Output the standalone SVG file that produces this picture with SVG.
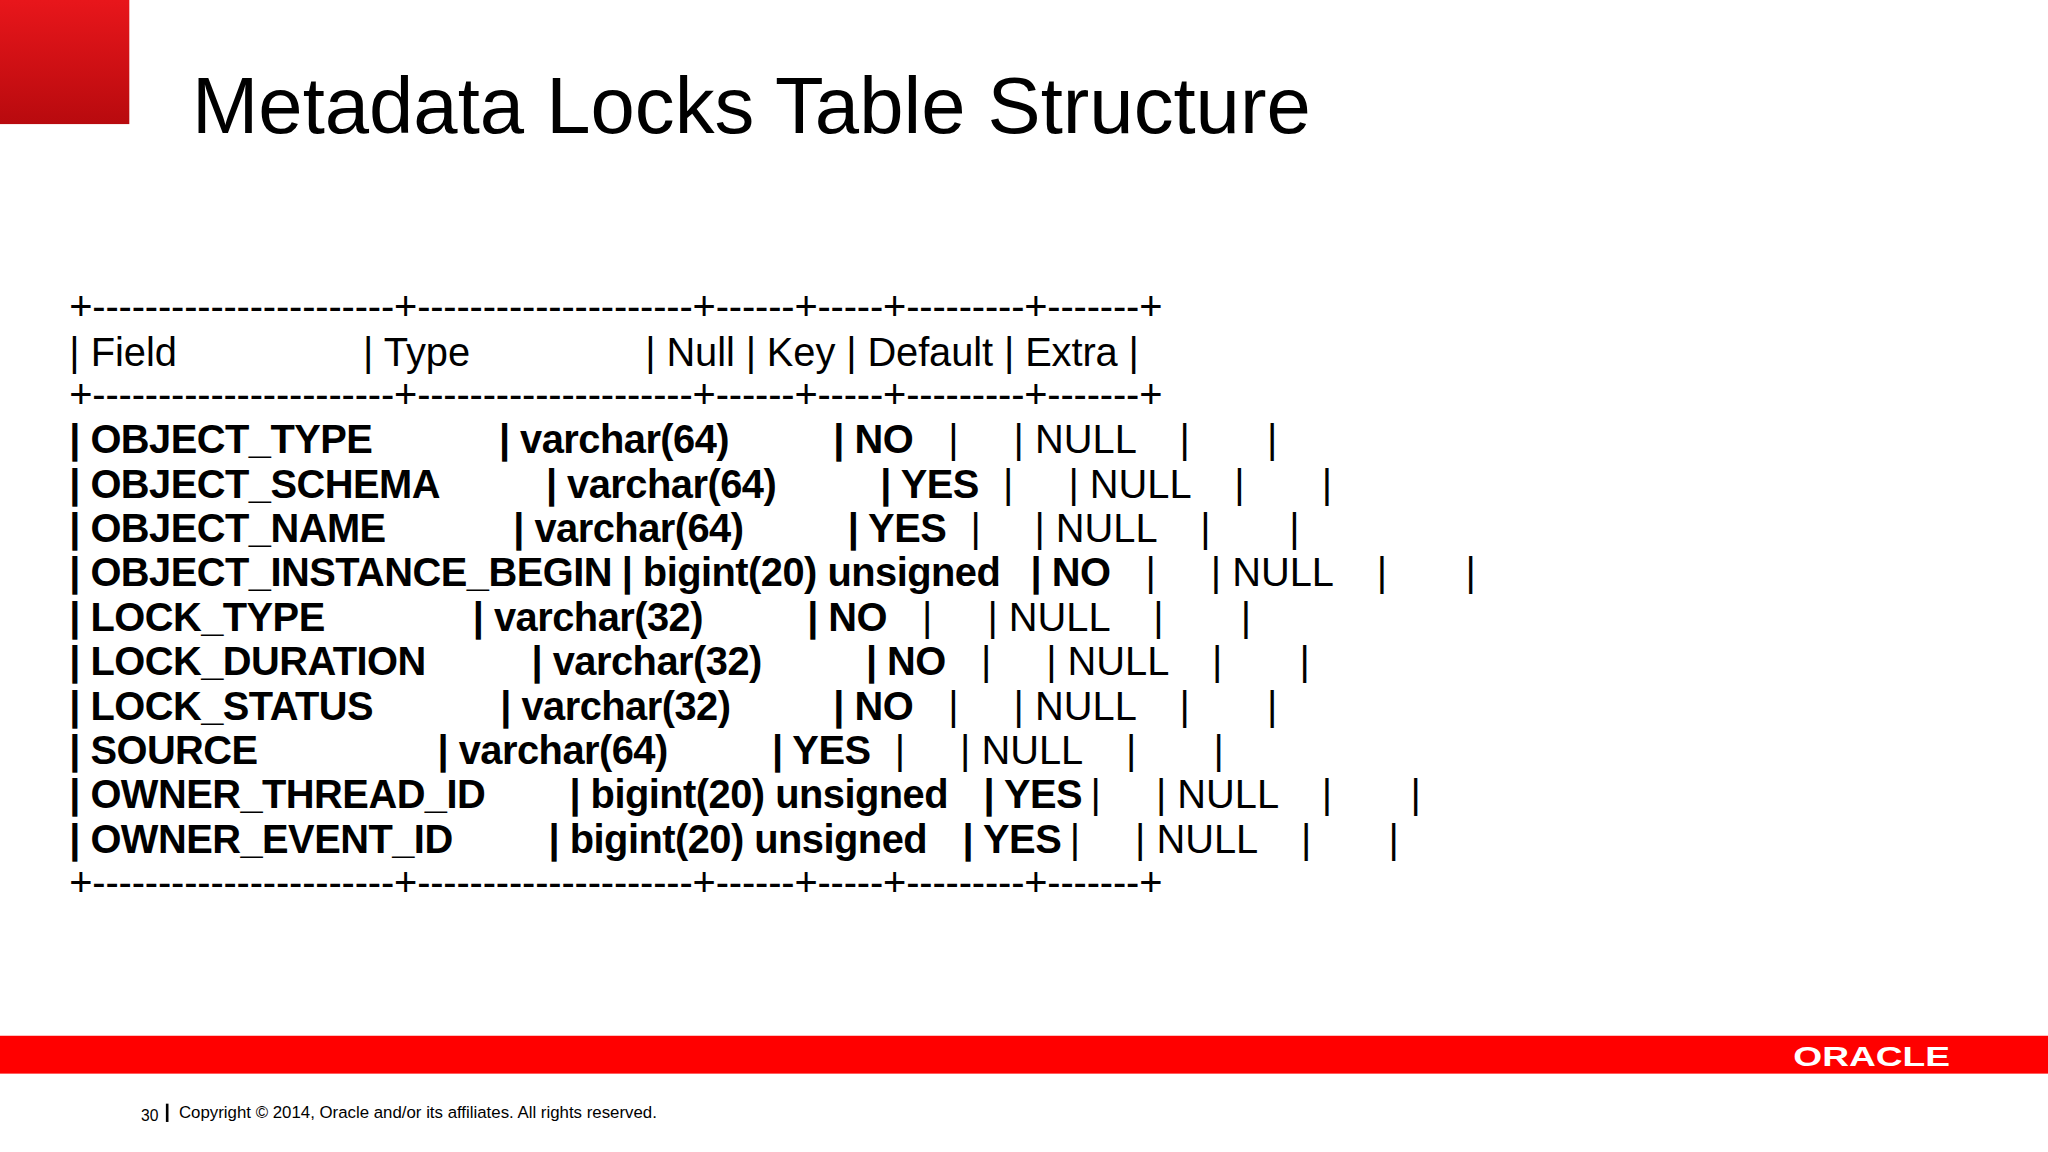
<svg xmlns="http://www.w3.org/2000/svg" width="2048" height="1152" viewBox="0 0 2048 1152">
<defs>
<linearGradient id="rg" x1="0" y1="0" x2="0" y2="1"><stop offset="0" stop-color="#e8161b"/><stop offset="1" stop-color="#b80a0e"/></linearGradient>
<style>
.t{font-family:"Liberation Sans",Arial,sans-serif;font-size:30.5px;fill:#000}
.b{font-weight:bold;letter-spacing:-0.4px}
</style>
</defs>
<rect width="2048" height="1152" fill="#fff"/>
<g transform="scale(1.30612)">
<g id="corner"><rect x="0" y="0" width="99" height="95" fill="url(#rg)"/></g>
<g id="title"><text x="147" y="102" font-family="Liberation Sans,Arial,sans-serif" font-size="61" fill="#000">Metadata Locks Table Structure</text></g>
<g id="table" class="t">
<text class="t" x="53" y="245" textLength="837" lengthAdjust="spacing">+-----------------------+---------------------+------+-----+---------+-------+</text>
<text class="t" x="53" y="280">| Field</text><text class="t" x="278" y="280">| Type</text><text class="t" x="494" y="280" textLength="378" lengthAdjust="spacing">| Null | Key | Default | Extra |</text>
<text class="t" x="53" y="312" textLength="837" lengthAdjust="spacing">+-----------------------+---------------------+------+-----+---------+-------+</text>
<g class="t">
<text class="t b" x="53" y="347">| OBJECT_TYPE</text><text class="t b" x="382" y="347">| varchar(64)</text><text class="t b" x="638" y="347">| NO</text><text class="t" x="726" y="347">|</text><text class="t" x="776" y="347">| NULL</text><text class="t" x="903" y="347">|</text><text class="t" x="970" y="347">|</text>
<text class="t b" x="53" y="381">| OBJECT_SCHEMA</text><text class="t b" x="418" y="381">| varchar(64)</text><text class="t b" x="674" y="381">| YES</text><text class="t" x="768" y="381">|</text><text class="t" x="818" y="381">| NULL</text><text class="t" x="945" y="381">|</text><text class="t" x="1012" y="381">|</text>
<text class="t b" x="53" y="415">| OBJECT_NAME</text><text class="t b" x="393" y="415">| varchar(64)</text><text class="t b" x="649" y="415">| YES</text><text class="t" x="743" y="415">|</text><text class="t" x="792" y="415">| NULL</text><text class="t" x="919" y="415">|</text><text class="t" x="987" y="415">|</text>
<text class="t b" x="53" y="449">| OBJECT_INSTANCE_BEGIN</text><text class="t b" x="476" y="449">| bigint(20) unsigned</text><text class="t b" x="789" y="449">| NO</text><text class="t" x="877" y="449">|</text><text class="t" x="927" y="449">| NULL</text><text class="t" x="1054" y="449">|</text><text class="t" x="1122" y="449">|</text>
<text class="t b" x="53" y="483">| LOCK_TYPE</text><text class="t b" x="362" y="483">| varchar(32)</text><text class="t b" x="618" y="483">| NO</text><text class="t" x="706" y="483">|</text><text class="t" x="756" y="483">| NULL</text><text class="t" x="883" y="483">|</text><text class="t" x="950" y="483">|</text>
<text class="t b" x="53" y="517">| LOCK_DURATION</text><text class="t b" x="407" y="517">| varchar(32)</text><text class="t b" x="663" y="517">| NO</text><text class="t" x="751" y="517">|</text><text class="t" x="801" y="517">| NULL</text><text class="t" x="928" y="517">|</text><text class="t" x="995" y="517">|</text>
<text class="t b" x="53" y="551">| LOCK_STATUS</text><text class="t b" x="383" y="551">| varchar(32)</text><text class="t b" x="638" y="551">| NO</text><text class="t" x="726" y="551">|</text><text class="t" x="776" y="551">| NULL</text><text class="t" x="903" y="551">|</text><text class="t" x="970" y="551">|</text>
<text class="t b" x="53" y="585">| SOURCE</text><text class="t b" x="335" y="585">| varchar(64)</text><text class="t b" x="591" y="585">| YES</text><text class="t" x="685" y="585">|</text><text class="t" x="735" y="585">| NULL</text><text class="t" x="862" y="585">|</text><text class="t" x="929" y="585">|</text>
<text class="t b" x="53" y="619">| OWNER_THREAD_ID</text><text class="t b" x="436" y="619">| bigint(20) unsigned</text><text class="t b" x="753" y="619">| YES</text><text class="t" x="835" y="619">|</text><text class="t" x="885" y="619">| NULL</text><text class="t" x="1012" y="619">|</text><text class="t" x="1080" y="619">|</text>
<text class="t b" x="53" y="653">| OWNER_EVENT_ID</text><text class="t b" x="420" y="653">| bigint(20) unsigned</text><text class="t b" x="737" y="653">| YES</text><text class="t" x="819" y="653">|</text><text class="t" x="869" y="653">| NULL</text><text class="t" x="996" y="653">|</text><text class="t" x="1063" y="653">|</text>
</g>
<text class="t" x="53" y="686" textLength="837" lengthAdjust="spacing">+-----------------------+---------------------+------+-----+---------+-------+</text>
</g>
<g id="footer">
<rect x="0" y="793" width="1568" height="29" fill="#ff0000"/>
<text x="1373" y="816" font-family="Liberation Sans,Arial,sans-serif" font-size="21" font-weight="bold" fill="#fff" textLength="120" lengthAdjust="spacingAndGlyphs">ORACLE</text>
<text x="108" y="858" font-family="Liberation Sans,Arial,sans-serif" font-size="12" fill="#000">30</text>
<rect x="127" y="845" width="2" height="14" fill="#000"/>
<text x="137" y="856" font-family="Liberation Sans,Arial,sans-serif" font-size="12.9" fill="#000">Copyright © 2014, Oracle and/or its affiliates. All rights reserved.</text>
</g>
</g>
</svg>
